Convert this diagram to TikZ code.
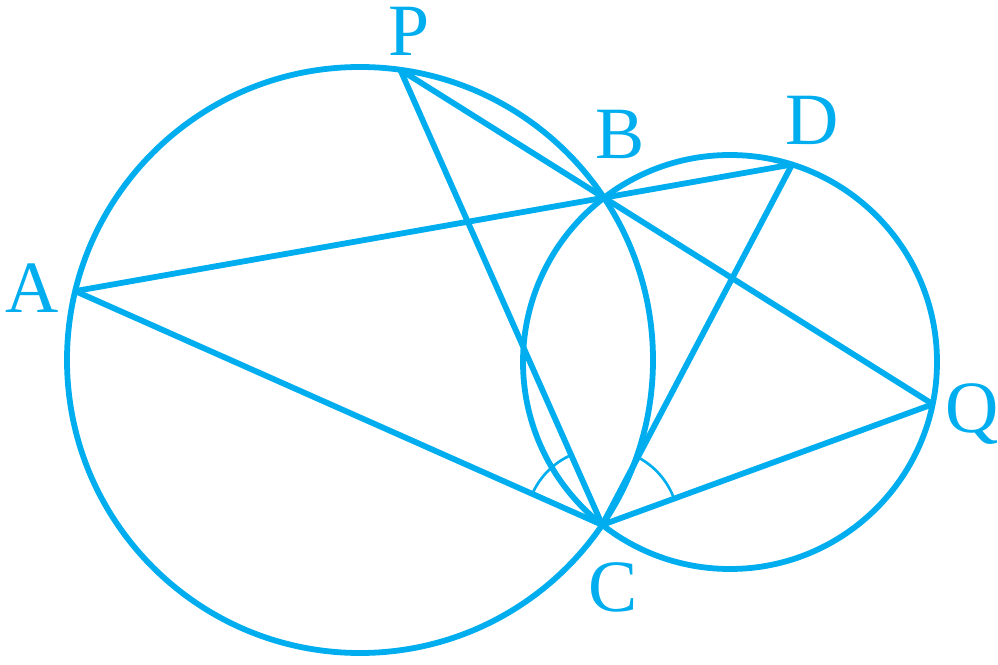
\documentclass[tikz,border=0pt]{standalone}
\usepackage{fontspec}
\setmainfont{Liberation Serif}
\usetikzlibrary{angles}
\definecolor{geocyan}{RGB}{0,174,239}
\tikzset{
  geoline/.style={draw=geocyan, line width=3.3pt, line join=round},
  anglemark/.style={draw=geocyan, line width=1.5pt, angle radius=1.53cm},
  ptlabel/.style={text=geocyan, inner sep=0pt, anchor=base, font=\fontsize{42}{42}\selectfont}
}
\begin{document}
\begin{tikzpicture}[x=0.02cm,y=0.02cm]
\useasboundingbox (0,0) rectangle (998,664);
\coordinate (O1) at (360,304);
\coordinate (O2) at (730,302);
\coordinate (B) at (604,466.3);
\coordinate (C) at (602.2,139.1);
\coordinate (P) at (400.3,594.2);
\coordinate (Q) at (932.8,259.8);
\coordinate (A) at (75.2,372.9);
\coordinate (D) at (792.1,499.5);
% circles
\draw[geoline] (O1) circle[radius=293];
\draw[geoline] (O2) circle[radius=207];
% lines
\draw[geoline] (P) -- (Q);
\draw[geoline] (A) -- (D);
\draw[geoline] (A) -- (C);
\draw[geoline] (P) -- (C);
\draw[geoline] (D) -- (C);
\draw[geoline] (C) -- (Q);
% angle marks
\pic[anglemark] {angle = P--C--A};
\pic[anglemark] {angle = Q--C--D};
% labels
\node[ptlabel] (lP) at (409,608) {P};
\node[ptlabel] (lA) at (32,352) {A};
\node[ptlabel] (lB) at (620,505) {B};
\node[ptlabel] (lD) at (812,520) {D};
\node[ptlabel] (lC) at (613,53) {C};
\node[ptlabel] (lQ) at (972,232) {Q};
\end{tikzpicture}
\end{document}
